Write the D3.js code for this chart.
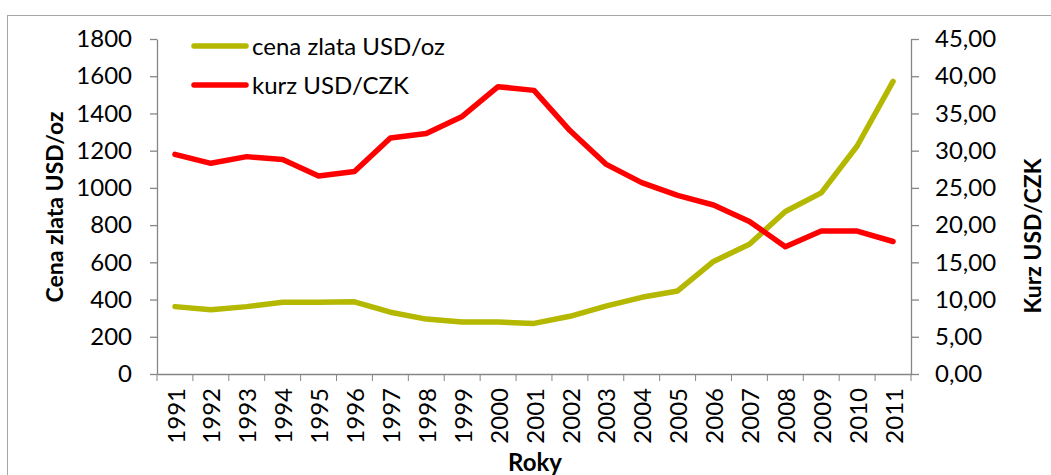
<!DOCTYPE html>
<html>
<head>
<meta charset="utf-8">
<script src="https://cdn.jsdelivr.net/npm/d3@7"></script>
<style>
  body { margin: 0; background: #fff; }
  text { font-family: Lato, "Open Sans", sans-serif; fill: #000; }
</style>
</head>
<body>
<div id="chart"></div>
<script>

// Data
var years = ["1991","1992","1993","1994","1995","1996","1997","1998","1999","2000",
             "2001","2002","2003","2004","2005","2006","2007","2008","2009","2010","2011"];
var goldPrice = [362, 345, 362, 386, 385, 388, 332, 295, 279, 279,
                 272, 310, 365, 412, 446, 605, 697, 873, 973, 1225, 1572];
var usdCzk = [29.5, 28.3, 29.2, 28.8, 26.6, 27.2, 31.7, 32.3, 34.6, 38.6,
              38.1, 32.7, 28.2, 25.7, 24.0, 22.7, 20.5, 17.1, 19.2, 19.2, 17.8];
var leftTicks = [0, 200, 400, 600, 800, 1000, 1200, 1400, 1600, 1800];
var rightTicks = [0, 5, 10, 15, 20, 25, 30, 35, 40, 45];
var seriesNames = ["cena zlata USD/oz", "kurz USD/CZK"];
var seriesColors = ["#b4b800", "#ff0000"];

var svgWidth = 1051;
var svgHeight = 475;

var plot = { left: 157, right: 911, top: 39, bottom: 374 };

var svg = d3.select("#chart")
            .append("svg")
            .attr("width", svgWidth)
            .attr("height", svgHeight);

// outer frame of the chart area
svg.append("rect")
   .attr("x", 7.5)
   .attr("y", 15.5)
   .attr("width", 1100)
   .attr("height", 500)
   .attr("fill", "none")
   .attr("stroke", "#a6a6a6")
   .attr("stroke-width", 1);

var x = d3.scaleBand()
          .domain(years)
          .range([plot.left, plot.right]);

var yLeft = d3.scaleLinear()
              .domain([0, 1800])
              .range([plot.bottom, plot.top]);

var yRight = d3.scaleLinear()
               .domain([0, 45])
               .range([plot.bottom, plot.top]);

var axisColor = "#868686";

// left axis
var leftAxis = svg.append("g")
                  .attr("transform", `translate(${plot.left}, 0)`)
                  .call(d3.axisLeft(yLeft).tickValues(leftTicks).tickSize(7).tickSizeOuter(0).tickPadding(18)
                          .tickFormat(d3.format("d")));
leftAxis.selectAll("text").attr("font-size", "24px").attr("font-family", "Lato");

// right axis
var rightAxis = svg.append("g")
                   .attr("transform", `translate(${plot.right}, 0)`)
                   .call(d3.axisRight(yRight).tickValues(rightTicks).tickSize(8).tickSizeOuter(0).tickPadding(16)
                           .tickFormat(d => d3.format(".2f")(d).replace(".", ",")));
rightAxis.selectAll("text").attr("font-size", "24px").attr("font-family", "Lato");

// bottom axis: labels at category centres, ticks at category borders
var bottomAxis = svg.append("g")
                    .attr("transform", `translate(0, ${plot.bottom})`)
                    .call(d3.axisBottom(x).tickSize(0).tickSizeOuter(0));
bottomAxis.selectAll("text")
          .attr("font-size", "24px")
          .attr("font-family", "Lato")
          .attr("transform", "rotate(-90)")
          .attr("text-anchor", "end")
          .attr("x", -14)
          .attr("y", 1)
          .attr("dy", "0.36em");

var borders = years.map(d => x(d)).concat([x.range()[1]]);
bottomAxis.selectAll(".border-tick")
          .data(borders)
          .enter()
          .append("line")
          .attr("x1", d => d)
          .attr("x2", d => d)
          .attr("y1", 0)
          .attr("y2", 7)
          .attr("stroke", axisColor);

svg.selectAll(".domain, .tick line")
   .attr("stroke", axisColor)
   .attr("stroke-width", 1.3);

// lines
var goldLine = d3.line()
                 .x((d, i) => x(years[i]) + x.bandwidth() / 2)
                 .y(d => yLeft(d));
var czkLine = d3.line()
                .x((d, i) => x(years[i]) + x.bandwidth() / 2)
                .y(d => yRight(d));

svg.append("path")
   .datum(goldPrice)
   .attr("d", goldLine)
   .attr("fill", "none")
   .attr("stroke", seriesColors[0])
   .attr("stroke-width", 5.5)
   .attr("stroke-linejoin", "round")
   .attr("stroke-linecap", "round");

svg.append("path")
   .datum(usdCzk)
   .attr("d", czkLine)
   .attr("fill", "none")
   .attr("stroke", seriesColors[1])
   .attr("stroke-width", 5.5)
   .attr("stroke-linejoin", "round")
   .attr("stroke-linecap", "round");

// axis titles
svg.append("text")
   .attr("transform", "translate(63, 207) rotate(-90)")
   .attr("text-anchor", "middle")
   .attr("font-size", "23px")
   .attr("font-weight", "bold")
   .text("Cena zlata USD/oz");

svg.append("text")
   .attr("transform", "translate(1041, 236) rotate(-90)")
   .attr("text-anchor", "middle")
   .attr("font-size", "23px")
   .attr("font-weight", "bold")
   .text("Kurz USD/CZK");

svg.append("text")
   .attr("x", 535)
   .attr("y", 471)
   .attr("text-anchor", "middle")
   .attr("font-size", "24px")
   .attr("font-weight", "bold")
   .text("Roky");

// legend
var legend = svg.append("g");
var legendRows = legend.selectAll("g")
                       .data(seriesNames)
                       .enter()
                       .append("g")
                       .attr("transform", (d, i) => `translate(0, ${46 + i * 39})`);
legendRows.append("line")
          .attr("x1", 194)
          .attr("x2", 246)
          .attr("y1", 0)
          .attr("y2", 0)
          .attr("stroke", (d, i) => seriesColors[i])
          .attr("stroke-width", 5.5)
          .attr("stroke-linecap", "round");
legendRows.append("text")
          .attr("x", 252)
          .attr("y", 9)
          .attr("font-size", "24px")
          .text(d => d);

</script>
</body>
</html>
